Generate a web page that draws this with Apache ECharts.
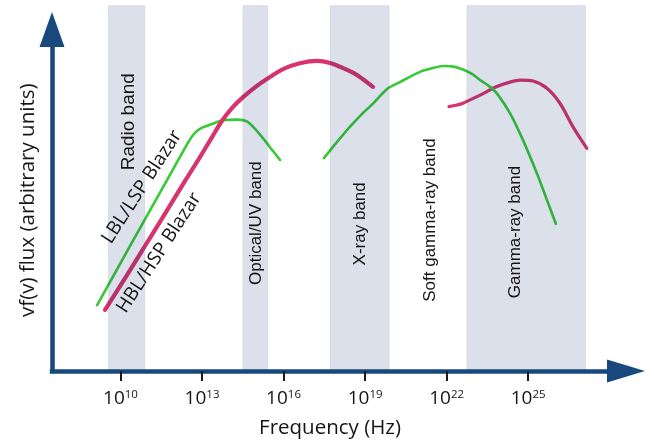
<!DOCTYPE html>
<html>
<head>
<meta charset="utf-8">
<script src="https://cdn.jsdelivr.net/npm/echarts@6/dist/echarts.min.js"></script>
<style>
  html, body { margin: 0; padding: 0; background: #fff; }
  #chart { width: 654px; height: 443px; }
</style>
</head>
<body>
<div id="chart"></div>
<script>
// x: log10 of frequency (Hz); y: flux in arbitrary units (0 at the axis, 100 at the arrow)
const tickExponents = [10, 13, 16, 19, 22, 25];

// Spectral bands shaded over the curves
const bandNames = ['Radio band', 'Optical/UV band', 'X-ray band', 'Gamma-ray band'];
const bandStart = [9.55, 14.50, 17.71, 22.74];
const bandEnd   = [10.90, 15.42, 19.89, 27.12];
const bandTop   = 107;

// LBL/LSP blazar: synchrotron hump and inverse-Compton hump
const lblSynchrotron = [
  [9.14, 19.3], [9.98, 31.3], [10.90, 44.4], [11.82, 57.4], [12.48, 66.8],
  [12.70, 69.4], [12.92, 70.9], [13.22, 71.9], [13.51, 72.8], [13.85, 73.5],
  [14.32, 73.6], [14.65, 73.1], [14.95, 70.9], [15.32, 67.4], [15.61, 64.4],
  [15.87, 61.8]
];
const lblCompton = [
  [17.49, 62.4], [17.97, 67.1], [18.44, 71.5], [18.89, 75.3], [19.29, 78.3],
  [19.81, 82.6], [20.28, 84.6], [21.02, 87.6], [21.50, 88.7], [21.87, 89.3],
  [22.20, 89.2], [22.60, 88.3], [22.93, 87.0], [23.23, 85.2], [23.60, 83.2],
  [23.85, 81.3], [24.33, 75.5], [24.81, 67.6], [25.32, 57.9], [25.69, 50.1],
  [26.02, 43.1]
];

// HBL/HSP blazar: synchrotron hump and inverse-Compton hump
const hblSynchrotron = [
  [9.43, 17.9], [10.17, 27.2], [10.90, 36.6], [11.64, 46.1], [12.37, 55.6],
  [12.93, 62.7], [13.37, 68.5], [13.73, 73.2], [14.10, 77.0], [14.51, 80.2],
  [15.02, 83.5], [15.50, 86.1], [15.98, 88.4], [16.60, 90.1], [17.23, 90.8],
  [17.71, 90.2], [18.19, 88.7], [18.70, 86.7], [19.29, 83.2]
];
const hblCompton = [
  [22.09, 77.4], [22.34, 77.8], [22.60, 78.4], [23.23, 80.8], [23.85, 83.3],
  [24.33, 84.6], [24.70, 85.2], [25.18, 84.9], [25.69, 82.8], [26.17, 78.4],
  [26.65, 71.5], [27.16, 65.2]
];

// Text annotations anchored in data coordinates
const noteText  = ['Radio band', 'Optical/UV band', 'X-ray band', 'Soft gamma-ray band', 'Gamma-ray band',
                   'LBL/LSP Blazar', 'HBL/HSP Blazar'];
const noteAt    = [[10.31, 73.0], [15.01, 43.3], [18.81, 43.1], [21.39, 44.2], [24.52, 40.7],
                   [10.79, 53.9], [11.42, 34.6]];
const noteAngle = [90, 90, 90, 90, 90, 57, 57];

const AXIS_BLUE = '#17497d';
const GREEN = '#36cb36';
const PINK = '#d8336d';
const HUMANIST = "'Open Sans', 'Noto Sans', sans-serif";
const GROTESK = "'Liberation Sans', Arial, sans-serif";

const chart = echarts.init(document.getElementById('chart'), null, { renderer: 'canvas' });

// Bands are a translucent blue-grey wash laid over the curves
function renderBand(params, api) {
  const topLeft = api.coord([api.value(0), api.value(2)]);
  const bottomRight = api.coord([api.value(1), 0]);
  return {
    type: 'rect',
    shape: {
      x: topLeft[0], y: topLeft[1],
      width: bottomRight[0] - topLeft[0],
      height: bottomRight[1] - topLeft[1]
    },
    style: { fill: 'rgba(22,48,115,0.15)', stroke: 'rgba(0,0,0,0.05)', lineWidth: 1 }
  };
}

function renderNote(params, api) {
  const i = params.dataIndex;
  const p = api.coord([api.value(0), api.value(1)]);
  const isBand = noteAngle[i] === 90;
  const size = i === 0 ? 19 : (isBand ? 17 : 19);
  return {
    type: 'text',
    x: p[0], y: p[1],
    rotation: noteAngle[i] * Math.PI / 180,
    style: {
      text: noteText[i],
      fontFamily: isBand ? GROTESK : HUMANIST,
      fontSize: size,
      fill: '#141414',
      align: 'center',
      verticalAlign: 'middle'
    }
  };
}

function curve(data, color, width) {
  return {
    type: 'line',
    data: data,
    smooth: 0.3,
    symbol: 'none',
    clip: false,
    silent: true,
    z: 3,
    lineStyle: { color: color, width: width, cap: 'round', join: 'round' }
  };
}

const option = {
  backgroundColor: '#fff',
  animation: false,
  grid: { left: 52, right: 28, top: 29.5, bottom: 72, outerBoundsMode: 'none' },
  xAxis: {
    type: 'value',
    min: 7.48,
    max: 28.6,
    z: 5,
    name: 'Frequency (Hz)',
    nameLocation: 'middle',
    nameGap: 47,
    nameTextStyle: { fontFamily: HUMANIST, fontSize: 20.5, color: '#151515', padding: [0, 18, 0, 0] },
    axisLine: {
      show: true, onZero: false,
      symbol: ['none', 'triangle'], symbolSize: [23, 38],
      lineStyle: { color: AXIS_BLUE, width: 4.5, cap: 'square' }
    },
    axisTick: { show: true, customValues: tickExponents, length: 10, inside: false,
                lineStyle: { color: '#1b1b1b', width: 2 } },
    axisLabel: {
      show: true,
      customValues: tickExponents,
      margin: 18,
      formatter: v => '{b|10}{s|' + v + '}',
      rich: {
        b: { fontFamily: HUMANIST, fontSize: 19, color: '#151515' },
        s: { fontFamily: HUMANIST, fontSize: 11.5, color: '#151515', verticalAlign: 'top' }
      }
    },
    splitLine: { show: false }
  },
  yAxis: {
    type: 'value',
    min: 0,
    max: 100,
    z: 5,
    name: 'vf(v) flux (arbitrary units)',
    nameLocation: 'middle',
    nameGap: 13,
    nameRotate: 90,
    nameTextStyle: { fontFamily: HUMANIST, fontSize: 20.5, color: '#151515' },
    axisLine: {
      show: true, onZero: false,
      symbol: ['none', 'triangle'], symbolSize: [25, 35],
      lineStyle: { color: AXIS_BLUE, width: 4.5, cap: 'square' }
    },
    axisTick: { show: false },
    axisLabel: { show: false },
    splitLine: { show: false }
  },
  series: [
    curve(lblSynchrotron, GREEN, 2.6),
    curve(hblSynchrotron, PINK, 4.2),
    curve(hblCompton, PINK, 3.2),
    curve(lblCompton, GREEN, 2.6),
    {
      type: 'custom',
      silent: true,
      clip: false,
      z: 4,
      data: bandNames.map((n, i) => [bandStart[i], bandEnd[i], bandTop]),
      encode: { x: [0, 1], y: 2 },
      renderItem: renderBand
    },
    {
      type: 'custom',
      silent: true,
      clip: false,
      z: 6,
      data: noteAt,
      encode: { x: 0, y: 1 },
      renderItem: renderNote
    }
  ]
};

chart.setOption(option);
</script>
</body>
</html>
